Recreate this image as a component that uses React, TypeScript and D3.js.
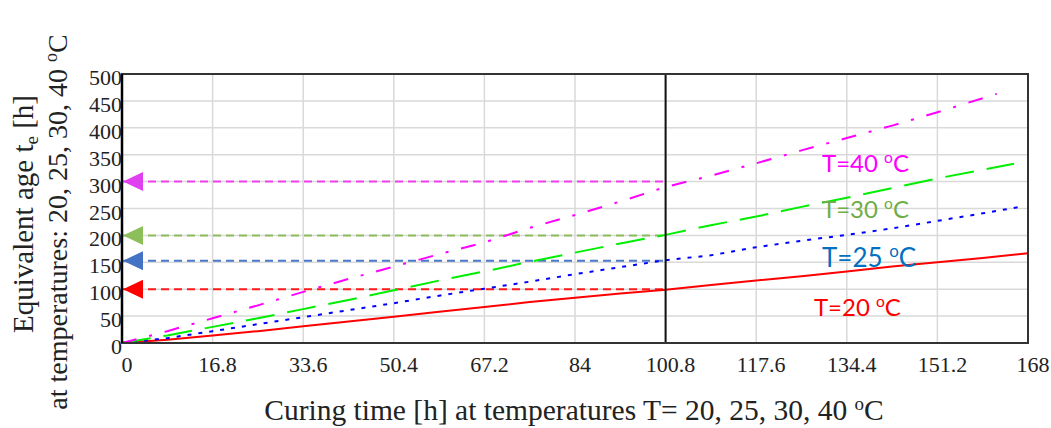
import React from "react";
import * as d3 from "d3";

const W = 1051;
const H = 428;

const xTicks = [0, 16.8, 33.6, 50.4, 67.2, 84, 100.8, 117.6, 134.4, 151.2, 168];
const xTickLabels = ["0", "16.8", "33.6", "50.4", "67.2", "84", "100.8", "117.6", "134.4", "151.2", "168"];
const yTicks = [0, 50, 100, 150, 200, 250, 300, 350, 400, 450, 500];

const timeGrid = [0, 8.4, 16.8, 25.2, 33.6, 42, 50.4, 58.8, 67.2, 75.6, 84, 92.4, 100.8, 109.2, 117.6, 126, 134.4, 142.8, 151.2, 159.6];

const t20 = [...timeGrid, 168];
const age20 = [0, 6, 14, 22, 31, 40, 49, 58, 67, 76, 84, 92, 99, 108, 116, 124, 133, 142, 150, 158, 167];
const t25 = [...timeGrid, 166.5];
const age25 = [0, 9, 22, 35, 48, 61, 74, 88, 101, 114, 128, 141, 154, 163, 178, 190, 201, 213, 227, 241, 253];
const t30 = [...timeGrid, 165.4];
const age30 = [0, 14, 30, 46, 63, 80, 98, 116, 133, 151, 168, 185, 201, 219, 235, 253, 270, 288, 306, 322, 333];
const t40 = [...timeGrid, 162.2];
const age40 = [0, 22, 46, 70, 95, 119, 142, 165, 187, 214, 238, 263, 290, 311, 334, 358, 381, 404, 429, 455, 463];

const refTime = 100.8;
const refLevels = [100, 153, 200, 300];
const refColors = ["#ff1a1a", "#4a78c8", "#8cbc5c", "#f040f0"];
const arrowColors = ["#ff0000", "#4472c4", "#8cbf5a", "#e040f0"];

const seriesNames = ["T=20", "T=25", "T=30", "T=40"];
const seriesColors = ["#ff0000", "#0000ff", "#00ee00", "#ff00ff"];
const labelColors = ["#ff0000", "#0070c0", "#70ad47", "#ff00ff"];
const seriesDash = [null, "4 7", "29 13", "15 13 3 13"];

const left = 122, right = 1028, top = 74, bottom = 343;
const serif = "'Liberation Serif', 'Times New Roman', serif";

export default function App() {
  const x = d3.scaleLinear().domain([0, 168]).range([left, right]);
  const y = d3.scaleLinear().domain([0, 500]).range([bottom, top]);

  const series = [
    { t: t20, v: age20 },
    { t: t25, v: age25 },
    { t: t30, v: age30 },
    { t: t40, v: age40 },
  ];

  const line = d3
    .line<[number, number]>()
    .x((d) => x(d[0]))
    .y((d) => y(d[1]));

  const labelPos = [
    { t: 128.3, v: 50, size: 24 },
    { t: 129.8, v: 142, size: 26 },
    { t: 129.8, v: 232, size: 24 },
    { t: 129.8, v: 318, size: 24 },
  ];

  return (
    <svg
      width={W}
      height={H}
      style={{ position: "absolute", left: 0, top: 0, background: "#fff" }}
    >
      <rect x={0} y={0} width={W} height={H} fill="#fff" />
      {xTicks.slice(1, -1).map((t) => (
        <line key={"gx" + t} x1={x(t)} x2={x(t)} y1={top} y2={bottom} stroke="#d9d9d9" strokeWidth={1.5} />
      ))}
      {yTicks.slice(1, -1).map((v) => (
        <line key={"gy" + v} x1={left} x2={right} y1={y(v)} y2={y(v)} stroke="#d9d9d9" strokeWidth={1.5} />
      ))}

      {refLevels.map((v, i) => (
        <line
          key={"ref" + v}
          x1={left}
          x2={x(refTime)}
          y1={y(v)}
          y2={y(v)}
          stroke={refColors[i]}
          strokeWidth={2}
          strokeDasharray="8 5"
        />
      ))}

      {series.map((s, i) => (
        <path
          key={"s" + i}
          d={line(s.t.map((t, j) => [t, s.v[j]] as [number, number])) || ""}
          fill="none"
          stroke={seriesColors[i]}
          strokeWidth={2}
          strokeDasharray={seriesDash[i] || undefined}
          strokeLinecap="butt"
        />
      ))}

      <line x1={x(refTime)} x2={x(refTime)} y1={top} y2={bottom} stroke="#111" strokeWidth={2} />

      <rect x={left} y={top} width={right - left} height={bottom - top} fill="none" stroke="#333" strokeWidth={2} />
      <line x1={left} x2={left} y1={top} y2={bottom} stroke="#000" strokeWidth={2.5} />

      {refLevels.map((v, i) => {
        const cy = y(v);
        const tip = left + 1;
        return (
          <polygon
            key={"arr" + v}
            points={`${tip},${cy} ${tip + 20},${cy - 9.5} ${tip + 20},${cy + 9.5}`}
            fill={arrowColors[i]}
          />
        );
      })}

      {yTicks.map((v) => (
        <text key={"yl" + v} x={left} y={y(v) + 11} textAnchor="end" fontFamily={serif} fontSize={22} fill="#222">
          {v}
        </text>
      ))}
      {xTicks.map((t, i) => (
        <text key={"xl" + t} x={x(t) + 5} y={372} textAnchor="middle" fontFamily={serif} fontSize={22} fill="#222">
          {xTickLabels[i]}
        </text>
      ))}

      {labelPos.map((p, i) => (
        <text
          key={"lab" + i}
          x={x(p.t)}
          y={y(p.v)}
          fontFamily="Lato, 'Open Sans', sans-serif"
          fontSize={p.size}
          fill={labelColors[i]}
        >
          {seriesNames[i] + " "}
          <tspan fontSize={p.size * 0.65} dy={-p.size * 0.38}>o</tspan>
          <tspan dy={p.size * 0.38}>C</tspan>
        </text>
      ))}

      <text x={574} y={420} textAnchor="middle" fontFamily={serif} fontSize={29.5} fill="#222">
        Curing time [h] at temperatures T= 20, 25, 30, 40{" "}
        <tspan fontSize={19} dy={-10}>o</tspan>
        <tspan dy={10}>C</tspan>
      </text>

      <text transform="translate(33,214) rotate(-90)" textAnchor="middle" fontFamily={serif} fontSize={29} fill="#222">
        Equivalent age t
        <tspan fontSize={19} dy={5}>e</tspan>
        <tspan dy={-5}> [h]</tspan>
      </text>
      <text transform="translate(67,222) rotate(-90)" textAnchor="middle" fontFamily={serif} fontSize={28} fill="#222">
        at temperatures:  20, 25, 30, 40{" "}
        <tspan fontSize={18} dy={-10}>o</tspan>
        <tspan dy={10}>C</tspan>
      </text>
    </svg>
  );
}
